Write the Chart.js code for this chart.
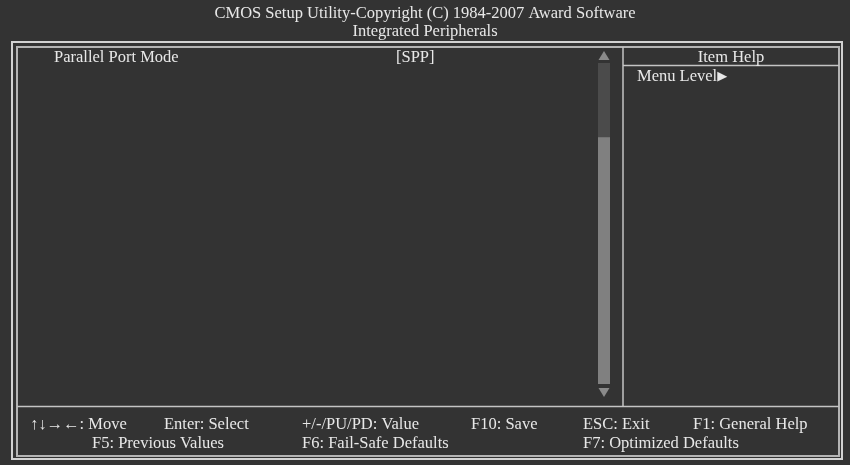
<!DOCTYPE html>
<html><head><meta charset="utf-8">
<script src="https://cdn.jsdelivr.net/npm/chart.js@4/dist/chart.umd.min.js"></script>
<style>html,body{margin:0;padding:0;background:#333;overflow:hidden}#wrap{width:850px;height:465px;position:relative}canvas{display:block}</style>
</head><body><div id="wrap"><canvas id="c" width="850" height="465"></canvas></div>
<script>
// ---- data ----
const titleLines = ['CMOS Setup Utility-Copyright (C) 1984-2007 Award Software', 'Integrated Peripherals'];
const menuItems = ['Parallel Port Mode'];
const menuValues = ['[SPP]'];
const helpTitle = 'Item Help';
const helpLines = ['Menu Level'];
const helpMarker = '\u25B6';
const footerRow1 = ['\u2191\u2193\u2192\u2190: Move', 'Enter: Select', '+/-/PU/PD: Value', 'F10: Save', 'ESC: Exit', 'F1: General Help'];
const footerRow2 = ['F5: Previous Values', 'F6: Fail-Safe Defaults', 'F7: Optimized Defaults'];
const scrollCategories = ['list'];
const scrollTrack = [[0, 23]];
const scrollThumb = [[23, 100]];

// ---- layout / style ----
const footerX1 = [30, 164, 302, 471, 583, 693];
const footerX2 = [92, 302, 583];
const FONT = '16.5px "Liberation Serif", "Times New Roman", serif';
const TXT = '#e8e8e8';
const BG = '#333333';

const biosPlugin = {
  id: 'bios',
  beforeDraw(chart) {
    const ctx = chart.ctx;
    ctx.save();
    ctx.fillStyle = BG;
    ctx.fillRect(0, 0, chart.width, chart.height);
    ctx.lineWidth = 2;
    ctx.strokeStyle = '#d2d2d2';
    ctx.strokeRect(12, 42, 830, 417);
    ctx.strokeStyle = '#b4b4b4';
    ctx.strokeRect(17, 47, 822, 409);
    ctx.strokeStyle = '#c4c4c4';
    ctx.lineWidth = 1.5;
    ctx.beginPath();
    ctx.moveTo(623, 47); ctx.lineTo(623, 406);
    ctx.moveTo(17, 406.5); ctx.lineTo(839, 406.5);
    ctx.moveTo(623, 65.5); ctx.lineTo(839, 65.5);
    ctx.stroke();
    ctx.restore();
  },
  afterDraw(chart) {
    const ctx = chart.ctx;
    const a = chart.chartArea;
    ctx.save();
    ctx.fillStyle = TXT;
    ctx.font = FONT;
    ctx.textBaseline = 'alphabetic';
    ctx.textAlign = 'center';
    ctx.fillText(titleLines[0], 425, 18);
    ctx.fillText(titleLines[1], 425, 36);
    ctx.fillText(helpTitle, 731, 62);
    ctx.textAlign = 'left';
    menuItems.forEach((t, i) => ctx.fillText(t, 54, 62 + i * 19));
    menuValues.forEach((t, i) => ctx.fillText(t, 396, 62 + i * 19));
    helpLines.forEach((t, i) => {
      ctx.font = FONT;
      ctx.fillText(t, 637, 81 + i * 19);
      const w = ctx.measureText(t).width;
      ctx.font = '13px "DejaVu Sans", sans-serif';
      ctx.fillText(helpMarker, 637 + w, 80 + i * 19);
    });
    ctx.font = FONT;
    footerRow1.forEach((t, i) => ctx.fillText(t, footerX1[i], 429));
    footerRow2.forEach((t, i) => ctx.fillText(t, footerX2[i], 448));
    const cx = (a.left + a.right) / 2;
    ctx.fillStyle = '#8a8a8a';
    ctx.beginPath();
    ctx.moveTo(cx, a.top - 12); ctx.lineTo(a.right - 0.5, a.top - 3); ctx.lineTo(a.left + 0.5, a.top - 3); ctx.closePath();
    ctx.fill();
    ctx.beginPath();
    ctx.moveTo(a.left + 0.5, a.bottom + 4); ctx.lineTo(a.right - 0.5, a.bottom + 4); ctx.lineTo(cx, a.bottom + 13); ctx.closePath();
    ctx.fill();
    ctx.restore();
  }
};

new Chart(document.getElementById('c'), {
  type: 'bar',
  data: {
    labels: scrollCategories,
    datasets: [
      { label: 'track', data: scrollTrack, backgroundColor: '#4b4b4b', borderWidth: 0, grouped: false, barPercentage: 1, categoryPercentage: 1 },
      { label: 'thumb', data: scrollThumb, backgroundColor: '#808080', borderWidth: 0, grouped: false, barPercentage: 1, categoryPercentage: 1 }
    ]
  },
  options: {
    responsive: false,
    animation: false,
    devicePixelRatio: 1,
    layout: { padding: { left: 598, right: 240, top: 63, bottom: 81 } },
    scales: {
      x: { display: false },
      y: { display: false, reverse: true, min: 0, max: 100 }
    },
    plugins: { legend: { display: false }, tooltip: { enabled: false }, title: { display: false } }
  },
  plugins: [biosPlugin]
});
</script>
</body></html>
